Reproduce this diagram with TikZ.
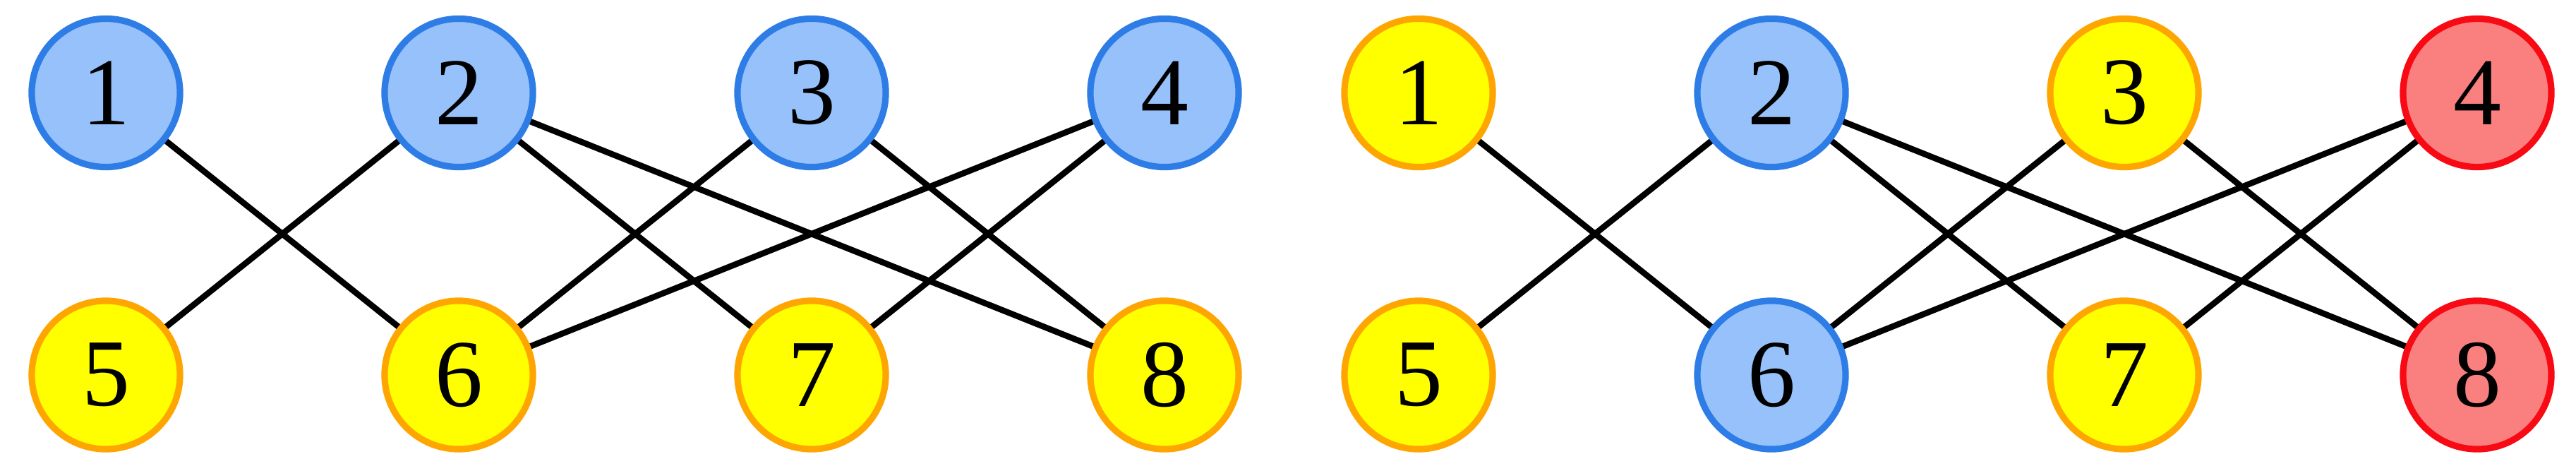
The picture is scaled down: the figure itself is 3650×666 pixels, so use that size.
\documentclass[tikz,border=0pt]{standalone}
\usepackage{fontspec}
\setmainfont{Liberation Serif}
\definecolor{bfill}{RGB}{151,193,250}
\definecolor{bdraw}{RGB}{46,125,230}
\definecolor{yfill}{RGB}{255,255,0}
\definecolor{ydraw}{RGB}{255,165,0}
\definecolor{rfill}{RGB}{250,128,128}
\definecolor{rdraw}{RGB}{248,10,20}
\pgfdeclarelayer{background}
\pgfsetlayers{background,main}
\tikzset{
  vtx/.style={circle, minimum size=2.10cm, inner sep=0pt, line width=0.092cm, font=\fontsize{38.6pt}{40pt}\selectfont},
  bnode/.style={vtx, fill=bfill, draw=bdraw},
  ynode/.style={vtx, fill=yfill, draw=ydraw},
  rnode/.style={vtx, fill=rfill, draw=rdraw},
  edge/.style={line width=0.085cm, black}
}
\begin{document}
\begin{tikzpicture}[x=0.01cm, y=-0.01cm]
\useasboundingbox (0,0) rectangle (3650,666);
% left graph
\node[bnode] (a1) at (150,131.5) {1};
\node[bnode] (a2) at (650,131.5) {2};
\node[bnode] (a3) at (1150,131.5) {3};
\node[bnode] (a4) at (1650,131.5) {4};
\node[ynode] (a5) at (150,531) {5};
\node[ynode] (a6) at (650,531) {6};
\node[ynode] (a7) at (1150,531) {7};
\node[ynode] (a8) at (1650,531) {8};
% right graph
\node[ynode] (b1) at (2010,131.5) {1};
\node[bnode] (b2) at (2510,131.5) {2};
\node[ynode] (b3) at (3010,131.5) {3};
\node[rnode] (b4) at (3510,131.5) {4};
\node[ynode] (b5) at (2010,531) {5};
\node[bnode] (b6) at (2510,531) {6};
\node[ynode] (b7) at (3010,531) {7};
\node[rnode] (b8) at (3510,531) {8};
\begin{pgfonlayer}{background}
\foreach \g in {a,b}{
  \draw[edge] (\g1.center) -- (\g6.center);
  \draw[edge] (\g2.center) -- (\g5.center);
  \draw[edge] (\g2.center) -- (\g7.center);
  \draw[edge] (\g2.center) -- (\g8.center);
  \draw[edge] (\g3.center) -- (\g6.center);
  \draw[edge] (\g3.center) -- (\g8.center);
  \draw[edge] (\g4.center) -- (\g6.center);
  \draw[edge] (\g4.center) -- (\g7.center);
}
\end{pgfonlayer}
\end{tikzpicture}
\end{document}
